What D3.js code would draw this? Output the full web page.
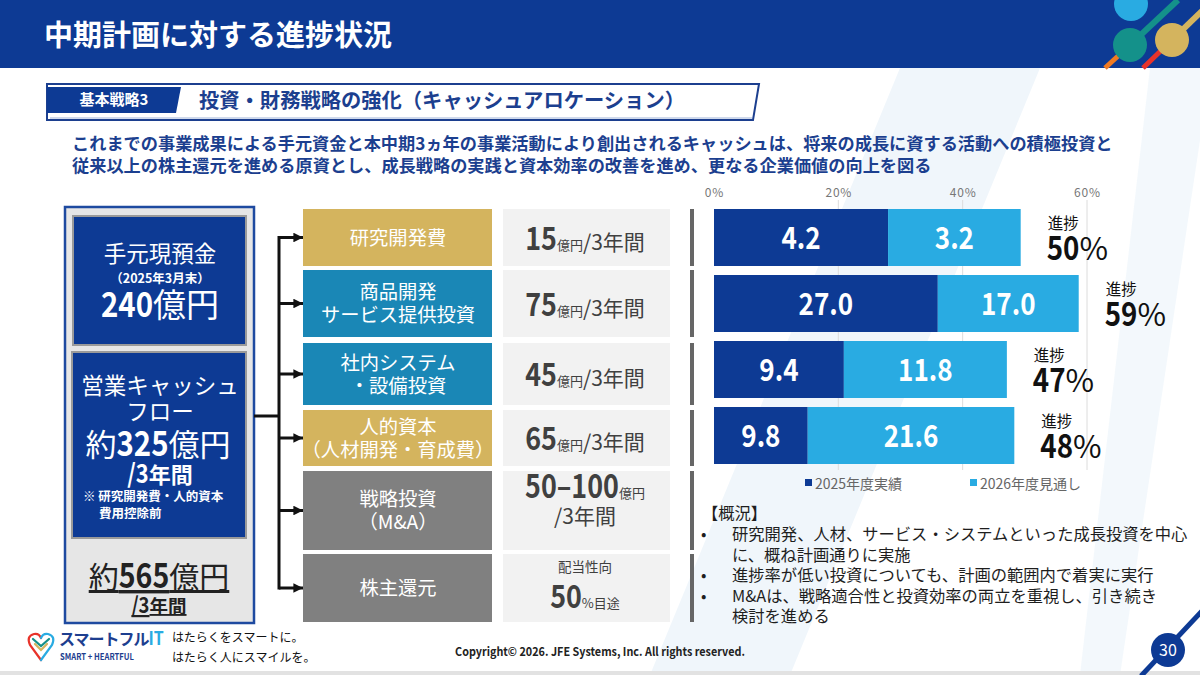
<!DOCTYPE html>
<html>
<head>
<meta charset="utf-8">
<script src="https://cdn.jsdelivr.net/npm/d3@7"></script>
<style>
  body { margin: 0; background: #fff; }
  svg { display: block; }
  text { font-family: "Noto Sans CJK JP", "Noto Sans", sans-serif; }
</style>
</head>
<body>
<div id="chart"></div>
<script>
// ---- data ----
const categories = ["研究開発費", "商品開発・サービス提供投資", "社内システム・設備投資", "人的資本"];
const planAmount = [15, 75, 45, 65];          // 億円 / 3年間
const actual2025 = [4.2, 27.0, 9.4, 9.8];     // 2025年度実績
const forecast2026 = [3.2, 17.0, 11.8, 21.6]; // 2026年度見通し
const progressLabel = [50, 59, 47, 48];       // 進捗 %
const xTicks = [0, 20, 40, 60];
const seriesNames = ["2025年度実績", "2026年度見通し"];

const allocLabels = [["研究開発費"], ["商品開発", "サービス提供投資"], ["社内システム", "・設備投資"],
                     ["人的資本", "（人材開発・育成費）"], ["戦略投資", "（M&A）"], ["株主還元"]];
const allocAmounts = ["15", "75", "45", "65", "50–100", "50"];
const allocKinds = ["gold", "blue", "blue", "gold", "gray", "gray"];

const overviewLines = [
  ["研究開発、人材、サービス・システムといった成長投資を中心", "に、概ね計画通りに実施"],
  ["進捗率が低い投資についても、計画の範囲内で着実に実行"],
  ["M&Aは、戦略適合性と投資効率の両立を重視し、引き続き", "検討を進める"]
];

// ---- layout ----
const W = 1200, H = 675;
const navy = "#0d3a94", textBlue = "#1c3f8f", lightBlue = "#29abe2";
const boxColor = {gold: "#d4b45e", blue: "#1a87b6", gray: "#808080"};
const numFont = 'Roboto, "DejaVu Sans", sans-serif';
const squeeze = 0.84;   // DIN-ish condensed look for numbers
const rowTop = [209, 270, 343, 410, 471, 554];
const rowBot = [266, 337, 405, 466, 550, 622];

const svg = d3.select("#chart").append("svg")
    .attr("width", W).attr("height", H)
    .attr("viewBox", [0, 0, W, H]);

// squeeze a plain text element horizontally
function condense(sel, k) {
  sel.each(function() {
    const w = this.getComputedTextLength() * (k || squeeze);
    d3.select(this).attr("textLength", w).attr("lengthAdjust", "spacingAndGlyphs");
  });
}

// mixed-size text, laid out piece by piece
function richText(g, x, y, parts, anchor) {
  const grp = g.append("g");
  const items = parts.map(p => {
    const t = grp.append("text").attr("y", y).text(p.t)
        .attr("font-size", p.s).attr("font-weight", p.b ? "bold" : "normal");
    if (p.n) t.attr("font-family", numFont);
    if (p.c) t.attr("fill", p.c);
    if (p.ls) t.attr("letter-spacing", p.ls);
    if (p.u) t.attr("text-decoration", "underline");
    let w = t.node().getComputedTextLength();
    if (p.n) {
      w *= (p.k || squeeze);
      t.attr("textLength", w).attr("lengthAdjust", "spacingAndGlyphs");
    }
    return {t, w};
  });
  const total = d3.sum(items, d => d.w);
  let cx = anchor === "start" ? x : x - total / 2;
  items.forEach(d => { d.t.attr("x", cx); cx += d.w; });
  return grp;
}

// faint background stripes
const bg = svg.append("g").attr("fill", "#f0f6fb");
bg.append("path").attr("d", "M900,68 L1040,68 L790,675 L650,675 Z");
bg.append("path").attr("d", "M1150,68 L1200,68 L1200,140 L1120,675 L1080,675 Z").attr("opacity", 0.8);
svg.append("rect").attr("x", 0).attr("y", 671).attr("width", W).attr("height", 4).attr("fill", "#e2e2e2");

// ---- header ----
svg.append("rect").attr("x", 0).attr("y", 0).attr("width", W).attr("height", 68).attr("fill", navy);
svg.append("text").attr("x", 44).attr("y", 46)
    .attr("fill", "#fff").attr("font-size", 29).attr("font-weight", "bold")
    .text("中期計画に対する進捗状況");

const deco = svg.append("g");
deco.append("line").attr("x1", 1105).attr("y1", 68).attr("x2", 1130).attr("y2", 45)
    .attr("stroke", "#f07a22").attr("stroke-width", 5);
deco.append("line").attr("x1", 1143).attr("y1", 68).attr("x2", 1172).attr("y2", 40)
    .attr("stroke", "#e8332a").attr("stroke-width", 5);
deco.append("line").attr("x1", 1130).attr("y1", 45).attr("x2", 1178).attr("y2", 0)
    .attr("stroke", "#14918a").attr("stroke-width", 6);
deco.append("line").attr("x1", 1172).attr("y1", 40).attr("x2", 1205).attr("y2", 8)
    .attr("stroke", "#d4b45e").attr("stroke-width", 6);
deco.append("circle").attr("cx", 1131).attr("cy", 4).attr("r", 17).attr("fill", lightBlue);
deco.append("circle").attr("cx", 1130).attr("cy", 45).attr("r", 17).attr("fill", "#14918a");
deco.append("circle").attr("cx", 1172).attr("cy", 40).attr("r", 17).attr("fill", "#d4b45e");

// ---- sub header ----
svg.append("path").attr("d", "M47,84 L759,84 L753,120 L47,120 Z")
    .attr("fill", "#fff").attr("stroke", textBlue).attr("stroke-width", 2);
svg.append("path").attr("d", "M50,118 L752,118").attr("stroke", "#9fb3d9").attr("stroke-width", 1);
svg.append("path").attr("d", "M47,87 L181,87 L176,113 L47,113 Z").attr("fill", navy);
svg.append("text").attr("x", 114).attr("y", 105).attr("text-anchor", "middle")
    .attr("fill", "#fff").attr("font-size", 15).attr("font-weight", "bold").text("基本戦略3");
svg.append("text").attr("x", 199).attr("y", 108)
    .attr("fill", textBlue).attr("font-size", 20.3).attr("font-weight", "bold")
    .text("投資・財務戦略の強化（キャッシュアロケーション）");

svg.append("g").attr("fill", textBlue).attr("font-size", 17.2).attr("font-weight", "bold")
  .selectAll("text")
  .data(["これまでの事業成果による手元資金と本中期3ヵ年の事業活動により創出されるキャッシュは、将来の成長に資する活動への積極投資と",
         "従来以上の株主還元を進める原資とし、成長戦略の実践と資本効率の改善を進め、更なる企業価値の向上を図る"])
  .join("text")
    .attr("x", 72).attr("y", (d, i) => 150 + i * 22)
    .text(d => d);

// ---- left source box ----
const left = svg.append("g");
left.append("rect").attr("x", 65).attr("y", 207).attr("width", 189).attr("height", 416)
    .attr("fill", "#e6e6e6").attr("stroke", "#1e4aa0").attr("stroke-width", 2.5);
left.append("rect").attr("x", 73).attr("y", 216).attr("width", 173).attr("height", 129)
    .attr("fill", navy).attr("stroke", "#9a9a9a").attr("stroke-width", 2);
left.append("rect").attr("x", 72).attr("y", 352).attr("width", 174).attr("height", 186)
    .attr("fill", navy).attr("stroke", "#9a9a9a").attr("stroke-width", 2);

const lw = left.append("g").attr("fill", "#fff");
richText(lw, 160, 262, [{t: "手元現預金", s: 22.5}]);
richText(lw, 160, 283, [{t: "（2025年3月末）", s: 12.5, b: true}]);
richText(lw, 160, 317, [{t: "240", s: 35, b: true, n: true}, {t: "億円", s: 33}]);
richText(lw, 160, 394, [{t: "営業キャッシュ", s: 22.5}]);
richText(lw, 160, 420, [{t: "フロー", s: 22.5}]);
richText(lw, 158, 456, [{t: "約", s: 31}, {t: "325", s: 35, b: true, n: true}, {t: "億円", s: 31}]);
richText(lw, 160, 483, [{t: "/3", s: 26, b: true, n: true}, {t: "年間", s: 22, b: true}]);
richText(lw, 83, 501, [{t: "※ 研究開発費・人的資本", s: 12.5, b: true}], "start");
richText(lw, 99, 518, [{t: "費用控除前", s: 12.5, b: true}], "start");

const lb = left.append("g").attr("fill", "#222");
richText(lb, 159, 588, [{t: "約", s: 30, u: true}, {t: "565", s: 34, b: true, n: true, u: true}, {t: "億円", s: 30, u: true}]);
richText(lb, 159, 613, [{t: "/3", s: 22, b: true, n: true, u: true}, {t: "年間", s: 18.5, b: true, u: true}]);

// ---- connectors ----
svg.append("defs").append("marker")
    .attr("id", "arrow").attr("viewBox", "0 -5 10 10")
    .attr("refX", 10).attr("refY", 0)
    .attr("markerWidth", 3.2).attr("markerHeight", 3.2)
    .attr("orient", "auto")
  .append("path").attr("d", "M0,-5 L10,0 L0,5 z").attr("fill", "#111");

const rowMid = rowTop.map((t, i) => (t + rowBot[i]) / 2);
const conn = svg.append("g").attr("stroke", "#111").attr("stroke-width", 3).attr("fill", "none");
conn.append("line").attr("x1", 254).attr("y1", 416).attr("x2", 279).attr("y2", 416);
conn.append("line").attr("x1", 279).attr("y1", rowMid[0] - 1.5).attr("x2", 279).attr("y2", rowMid[5] + 1.5);
conn.selectAll("path.arm").data(rowMid).join("path").attr("class", "arm")
    .attr("d", d => `M279,${d} L303,${d}`)
    .attr("marker-end", "url(#arrow)");

// ---- allocation rows ----
const rows = svg.append("g").selectAll("g").data(allocLabels).join("g");
rows.append("rect")
    .attr("x", 303).attr("y", (d, i) => rowTop[i])
    .attr("width", 189).attr("height", (d, i) => rowBot[i] - rowTop[i])
    .attr("fill", (d, i) => boxColor[allocKinds[i]]);
rows.each(function(lines, i) {
  const g = d3.select(this);
  const lh = 23;
  lines.forEach((ln, j) => {
    g.append("text").attr("x", 398).attr("text-anchor", "middle")
      .attr("y", rowMid[i] + 7 + (j - (lines.length - 1) / 2) * lh)
      .attr("fill", "#fff").attr("font-size", 19.3)
      .text(ln);
  });
});
rows.append("rect")
    .attr("x", 503).attr("y", (d, i) => rowTop[i])
    .attr("width", 167).attr("height", (d, i) => rowBot[i] - rowTop[i])
    .attr("fill", "#f2f2f2");
rows.append("rect")
    .attr("x", 690).attr("y", (d, i) => rowTop[i])
    .attr("width", 4).attr("height", (d, i) => rowBot[i] - rowTop[i])
    .attr("fill", "#666");

const amt = svg.append("g").attr("fill", "#404040");
allocAmounts.forEach((a, i) => {
  if (i < 4) {
    richText(amt, 585, rowMid[i] + 12, [{t: a, s: 32, b: true, n: true}, {t: " ", s: 4}, {t: "億円", s: 13}, {t: "/3年間", s: 21}]);
  } else if (i === 4) {
    richText(amt, 585, rowMid[i] - 13, [{t: a, s: 32, b: true, n: true}, {t: " ", s: 4}, {t: "億円", s: 13}]);
    richText(amt, 585, rowMid[i] + 13, [{t: "/3年間", s: 21}]);
  } else {
    richText(amt, 585, rowMid[i] - 16, [{t: "配当性向", s: 13.5}]);
    richText(amt, 585, rowMid[i] + 20, [{t: a, s: 32, b: true, n: true}, {t: " ", s: 4}, {t: "%目途", s: 13}]);
  }
});

// ---- progress bar chart ----
const x = d3.scaleLinear().domain([0, 60]).range([714, 1087]);
const y = d3.scaleBand().domain(categories).range([209, 464]).paddingInner(9 / 66);

const barData = categories.map((c, i) => {
  const a = actual2025[i] / planAmount[i] * 100;
  const f = forecast2026[i] / planAmount[i] * 100;
  return {c, a, f, va: actual2025[i], vf: forecast2026[i], p: progressLabel[i]};
});

const chart = svg.append("g");
chart.append("g").selectAll("line").data(xTicks.filter(d => d > 0)).join("line")
    .attr("x1", d => x(d)).attr("x2", d => x(d))
    .attr("y1", 200).attr("y2", 470)
    .attr("stroke", "#dcdcdc").attr("stroke-width", 1);

const axis = chart.append("g").attr("transform", "translate(0,197)")
    .call(d3.axisTop(x).tickValues(xTicks).tickFormat(d => d + "%").tickSize(0).tickPadding(0));
axis.select(".domain").remove();
axis.selectAll("text").attr("font-size", 12).attr("fill", "#777")
    .attr("font-family", '"Noto Sans","DejaVu Sans",sans-serif').attr("letter-spacing", 0.8);

const bars = chart.append("g").selectAll("g").data(barData).join("g");
bars.append("rect")
    .attr("x", x(0)).attr("y", d => y(d.c))
    .attr("width", d => x(d.a) - x(0)).attr("height", y.bandwidth())
    .attr("fill", navy);
bars.append("rect")
    .attr("x", d => x(d.a)).attr("y", d => y(d.c))
    .attr("width", d => x(d.a + d.f) - x(d.a)).attr("height", y.bandwidth())
    .attr("fill", lightBlue);
bars.append("text")
    .attr("x", d => (x(0) + x(d.a)) / 2).attr("y", d => y(d.c) + y.bandwidth() / 2 + 11)
    .attr("text-anchor", "middle").attr("fill", "#fff").attr("font-family", numFont)
    .attr("font-size", 31).attr("font-weight", "bold")
    .text(d => d.va.toFixed(1))
    .call(condense);
bars.append("text")
    .attr("x", d => (x(d.a) + x(d.a + d.f)) / 2).attr("y", d => y(d.c) + y.bandwidth() / 2 + 11)
    .attr("text-anchor", "middle").attr("fill", "#fff").attr("font-family", numFont)
    .attr("font-size", 31).attr("font-weight", "bold")
    .text(d => d.vf.toFixed(1))
    .call(condense);
bars.append("text")
    .attr("x", d => x(d.a + d.f) + 27).attr("y", d => y(d.c) + y.bandwidth() / 2 - 9)
    .attr("fill", "#111").attr("font-size", 15.5)
    .text("進捗");
bars.each(function(d) {
  richText(d3.select(this).attr("fill", "#111"), x(d.a + d.f) + 26, y(d.c) + y.bandwidth() / 2 + 22,
    [{t: String(d.p), s: 33, b: true, n: true}, {t: "%", s: 31}], "start");
});

// legend
const legend = chart.append("g").selectAll("g").data(seriesNames).join("g")
    .attr("transform", (d, i) => `translate(${[805, 970][i]},483)`);
legend.append("rect").attr("x", 0).attr("y", -4).attr("width", 7).attr("height", 7)
    .attr("fill", (d, i) => [navy, lightBlue][i]);
legend.append("text").attr("x", 10).attr("y", 5.5)
    .attr("font-size", 14).attr("fill", "#666").text(d => d);

// ---- overview ----
const ov = svg.append("g").attr("fill", "#1e1e1e").attr("font-size", 16.3);
ov.append("text").attr("x", 702).attr("y", 519).text("【概況】");
let line = 0;
overviewLines.forEach(item => {
  ov.append("text").attr("x", 701).attr("y", 540 + line * 20.5).text("•").attr("font-size", 16)
    .attr("font-family", '"DejaVu Sans",sans-serif');
  item.forEach(s => {
    ov.append("text").attr("x", 732).attr("y", 540 + line * 20.5).text(s);
    line++;
  });
});

// ---- footer ----
const ft = svg.append("g");
const heart = ft.append("g").attr("fill", "none").attr("stroke-width", 2.2).attr("stroke-linecap", "round");
heart.append("path").attr("d", "M41,660 L30,645 Q26,636 34,634 Q39,633 41,638").attr("stroke", "#e8332a");
heart.append("path").attr("d", "M41,660 L52,645 Q56,636 48,634 Q43,633 41,638").attr("stroke", "#29abe2");
heart.append("path").attr("d", "M35,644 L41,650 L47,644").attr("stroke", "#d4b45e");
heart.append("path").attr("d", "M33,639 L41,646 L49,639").attr("stroke", "#14918a");
richText(ft, 59, 645, [{t: "スマートフル", s: 16, b: true, c: "#1d3e8f", ls: -1},
                       {t: "IT", s: 19, b: true, c: lightBlue, n: true}], "start");
ft.append("text").attr("x", 60).attr("y", 660).attr("font-size", 9).attr("font-weight", "bold")
    .attr("fill", "#1d3e8f").attr("font-family", numFont).text("SMART + HEARTFUL")
    .call(condense, 0.85);
ft.append("text").attr("x", 172).attr("y", 642).attr("font-size", 12).attr("fill", "#111").text("はたらくをスマートに。");
ft.append("text").attr("x", 172).attr("y", 662).attr("font-size", 12).attr("fill", "#111").text("はたらく人にスマイルを。");
ft.append("text").attr("x", 600).attr("y", 656).attr("text-anchor", "middle").attr("font-family", numFont)
    .attr("font-size", 12).attr("font-weight", "bold").attr("fill", "#222")
    .text("Copyright© 2026. JFE Systems, Inc. All rights reserved.")
    .call(condense, 0.9);

ft.append("line").attr("x1", 1141).attr("y1", 676).attr("x2", 1202).attr("y2", 611)
    .attr("stroke", navy).attr("stroke-width", 5);
ft.append("circle").attr("cx", 1168).attr("cy", 650).attr("r", 17).attr("fill", navy);
ft.append("text").attr("x", 1168).attr("y", 656).attr("text-anchor", "middle")
    .attr("font-size", 16).attr("fill", "#fff").text("30");
</script>
</body>
</html>
